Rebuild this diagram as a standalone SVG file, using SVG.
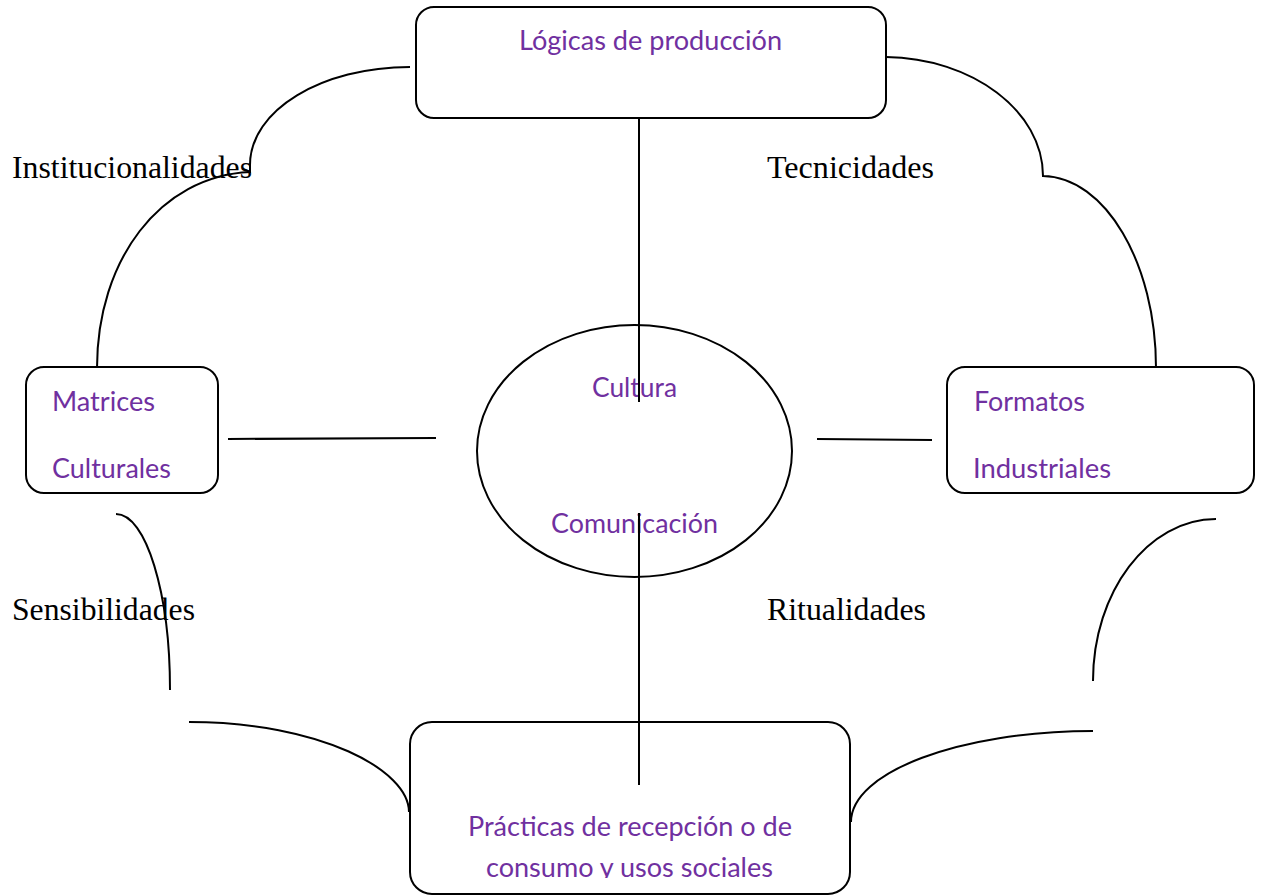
<svg xmlns="http://www.w3.org/2000/svg" width="1263" height="896" viewBox="0 0 1263 896">
  <style>
    .box { fill: #ffffff; stroke: #000000; stroke-width: 2; }
    .lbl { fill: #7030A0; font-family: Lato, "Open Sans", "Liberation Sans", sans-serif; font-size: 26px; }
    .cat { fill: #000000; font-family: "Liberation Serif", "Times New Roman", serif; font-size: 31px; }
    .con { fill: none; stroke: #000000; stroke-width: 2; }
  </style>
  <defs>
    <clipPath id="bottomClip">
      <rect x="410" y="722" width="440" height="156"/>
    </clipPath>
  </defs>
  <rect width="1263" height="896" fill="#ffffff"/>

  <g id="node-logicas">
    <rect class="box" x="416" y="7" width="470" height="111" rx="18"/>
    <text class="lbl" x="519" y="50" textLength="263" lengthAdjust="spacingAndGlyphs">Lógicas de producción</text>
  </g>

  <g id="node-matrices">
    <rect class="box" x="26" y="367" width="192" height="126" rx="18"/>
    <text class="lbl" x="52" y="411" textLength="103" lengthAdjust="spacingAndGlyphs">Matrices</text>
    <text class="lbl" x="52" y="478" textLength="119" lengthAdjust="spacingAndGlyphs">Culturales</text>
  </g>

  <g id="node-formatos">
    <rect class="box" x="947" y="367" width="307" height="126" rx="18"/>
    <text class="lbl" x="974" y="411" textLength="111" lengthAdjust="spacingAndGlyphs">Formatos</text>
    <text class="lbl" x="973" y="478" textLength="138" lengthAdjust="spacingAndGlyphs">Industriales</text>
  </g>

  <g id="node-cultura">
    <ellipse class="box" cx="634.5" cy="451" rx="157.5" ry="126"/>
    <text class="lbl" x="592" y="397" textLength="85" lengthAdjust="spacingAndGlyphs">Cultura</text>
    <text class="lbl" x="551" y="533" textLength="167" lengthAdjust="spacingAndGlyphs">Comunicación</text>
  </g>

  <g id="node-practicas">
    <rect class="box" x="410" y="722" width="440" height="172" rx="22"/>
    <g clip-path="url(#bottomClip)">
      <text class="lbl" x="468" y="836" textLength="324" lengthAdjust="spacingAndGlyphs">Prácticas de recepción o de</text>
      <text class="lbl" x="486" y="877" textLength="287" lengthAdjust="spacingAndGlyphs">consumo y usos sociales</text>
    </g>
  </g>

  <g id="labels">
    <text class="cat" x="12" y="178" textLength="240" lengthAdjust="spacingAndGlyphs">Institucionalidades</text>
    <text class="cat" x="767" y="178" textLength="167" lengthAdjust="spacingAndGlyphs">Tecnicidades</text>
    <text class="cat" x="12" y="620" textLength="183" lengthAdjust="spacingAndGlyphs">Sensibilidades</text>
    <text class="cat" x="767" y="620" textLength="159" lengthAdjust="spacingAndGlyphs">Ritualidades</text>
  </g>

  <g id="connectors">
    <path class="con" d="M639,118 L639,402"/>
    <path class="con" d="M639,513 L639,785"/>
    <path class="con" d="M228,439 L436,438"/>
    <path class="con" d="M817,439 L932,440"/>
    <path class="con" d="M410,67 C322,67 250,110 250,165 L250,172 C160,176 97,260 97,368"/>
    <path class="con" d="M886,57 C972,58 1043,111 1043,176 C1105,177 1156,263 1156,368"/>
    <path class="con" d="M116,514 C146,514 170,593 170,690"/>
    <path class="con" d="M189,722 C320,722 409,770 409,812"/>
    <path class="con" d="M1216,519 C1148,519 1093,592 1093,681"/>
    <path class="con" d="M1093,731 C960,731 851,772 851,822"/>
  </g>
</svg>
